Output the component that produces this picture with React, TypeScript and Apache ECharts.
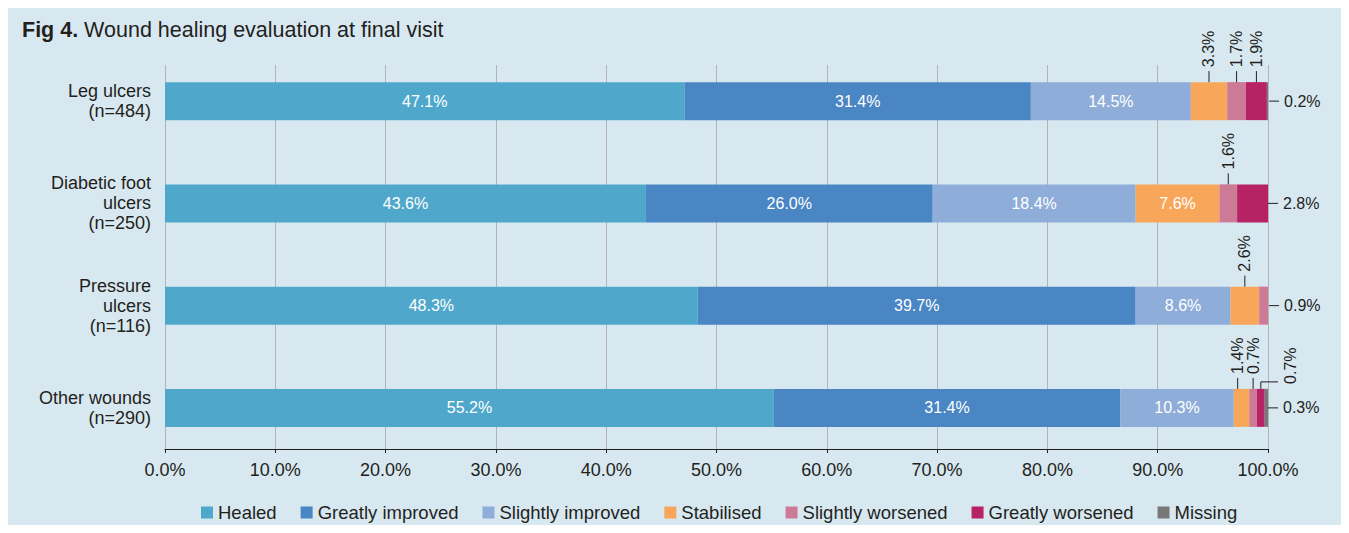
import React, { useEffect, useRef } from 'react';
import * as echarts from 'echarts';

const categories = [
  'Leg ulcers\n(n=484)',
  'Diabetic foot\nulcers\n(n=250)',
  'Pressure\nulcers\n(n=116)',
  'Other wounds\n(n=290)',
];
const seriesNames = [
  'Healed',
  'Greatly improved',
  'Slightly improved',
  'Stabilised',
  'Slightly worsened',
  'Greatly worsened',
  'Missing',
];
const healed = [47.1, 43.6, 48.3, 55.2];
const greatlyImproved = [31.4, 26.0, 39.7, 31.4];
const slightlyImproved = [14.5, 18.4, 8.6, 10.3];
const stabilised = [3.3, 7.6, 2.6, 1.4];
const slightlyWorsened = [1.7, 1.6, 0.9, 0.7];
const greatlyWorsened = [1.9, 2.8, 0, 0.7];
const missing = [0.2, 0, 0, 0.3];
const xTicks = [0, 10, 20, 30, 40, 50, 60, 70, 80, 90, 100];

const seriesValues = [healed, greatlyImproved, slightlyImproved, stabilised, slightlyWorsened, greatlyWorsened, missing];
const colors = ['#4fa8cb', '#4a85c4', '#8fadd9', '#f8a65a', '#cc7a96', '#b72264', '#787878'];

const FONT = '"Liberation Sans", Arial, Helvetica, sans-serif';
const TEXT = '#231f20';
const BAR_W = 38;
const INSIDE_MIN = 5;

// Build annotation items for small segments: [start, cat, end, kind, shift, value]
// kind 0 = label above (rotated), 1 = label at right end, 2 = elbow label above right
function buildAnnotations() {
  const out: number[][] = [];
  categories.forEach((_, ci) => {
    const vals = seriesValues.map((s) => s[ci]);
    let lastIdx = -1;
    vals.forEach((v, i) => { if (v > 0) lastIdx = i; });
    const starts: number[] = [];
    let acc = 0;
    vals.forEach((v) => { starts.push(acc); acc += v; });
    const tops: { i: number; center: number; shift: number; kind: number }[] = [];
    vals.forEach((v, i) => {
      if (v <= 0 || v >= INSIDE_MIN || i === lastIdx) return;
      const center = starts[i] + v / 2;
      const prev = tops.length ? tops[tops.length - 1] : null;
      let kind = 0;
      if (prev && prev.kind === 0 && center - prev.center < 0.9) kind = 2;
      tops.push({ i, center, shift: 0, kind });
    });
    // nudge overlapping upward labels
    for (let k = tops.length - 1; k > 0; k--) {
      const a = tops[k - 1];
      const b = tops[k];
      if (b.kind !== 0 || a.kind !== 0) continue;
      const gap = b.center + b.shift - (a.center + a.shift);
      if (gap < 1.4) a.shift -= 1.4 - gap;
    }
    tops.forEach((t) => {
      out.push([starts[t.i], ci, starts[t.i] + vals[t.i], t.kind, t.shift, vals[t.i]]);
    });
    if (lastIdx >= 0 && vals[lastIdx] < INSIDE_MIN) {
      out.push([starts[lastIdx], ci, starts[lastIdx] + vals[lastIdx], 1, 0, vals[lastIdx]]);
    }
  });
  return out;
}

export default function App() {
  const ref = useRef<HTMLDivElement>(null);
  useEffect(() => {
    if (!ref.current) return;
    const chart = echarts.init(ref.current, undefined, { renderer: 'svg' });
    const annotations = buildAnnotations();

    const barSeries = seriesNames.map((name, si) => ({
      name,
      type: 'bar',
      stack: 'total',
      xAxisIndex: 0,
      yAxisIndex: 0,
      barWidth: BAR_W,
      itemStyle: { color: colors[si] },
      data: seriesValues[si],
      label: {
        show: true,
        position: 'inside',
        color: '#ffffff',
        fontSize: 16,
        fontFamily: FONT,
        formatter: (p: any) => (p.value >= INSIDE_MIN ? p.value.toFixed(1) + '%' : ''),
      },
    }));

    const annotationSeries = {
      name: 'annotations',
      type: 'custom',
      xAxisIndex: 0,
      yAxisIndex: 0,
      clip: false,
      z: 5,
      data: annotations,
      renderItem: (_params: any, api: any) => {
        const start = api.value(0);
        const cat = api.value(1);
        const end = api.value(2);
        const kind = api.value(3);
        const shift = api.value(4);
        const v = api.value(5);
        const center = (start + end) / 2;
        const c = api.coord([center + shift, cat]);
        const cy = c[1];
        const barTop = cy - BAR_W / 2;
        const label = Number(v).toFixed(1) + '%';
        const textStyle = {
          text: label,
          fill: TEXT,
          fontSize: 16,
          fontFamily: FONT,
          align: 'left',
          verticalAlign: 'middle',
        };
        const lineStyle = { stroke: TEXT, lineWidth: 1 };
        if (kind === 1) {
          const xe = api.coord([end, cat])[0];
          return {
            type: 'group',
            children: [
              { type: 'line', shape: { x1: xe, y1: cy, x2: xe + 10, y2: cy }, style: lineStyle },
              { type: 'text', x: xe + 15, y: cy, style: textStyle },
            ],
          };
        }
        if (kind === 2) {
          const x100 = api.coord([100, cat])[0];
          const x = c[0];
          return {
            type: 'group',
            children: [
              {
                type: 'polyline',
                shape: { points: [[x, barTop], [x, barTop - 7], [x100 + 10, barTop - 7]] },
                style: { ...lineStyle, fill: 'none' },
              },
              { type: 'text', x: x100 + 22, y: barTop - 5, rotation: Math.PI / 2, style: textStyle },
            ],
          };
        }
        const x = c[0];
        return {
          type: 'group',
          children: [
            { type: 'line', shape: { x1: x, y1: barTop, x2: x, y2: barTop - 11 }, style: lineStyle },
            { type: 'text', x: x, y: barTop - 15, rotation: Math.PI / 2, style: textStyle },
          ],
        };
      },
    };

    chart.setOption({
      animation: false,
      backgroundColor: '#d8e8f1',
      textStyle: { fontFamily: FONT },
      title: {
        text: '{b|Fig 4.} {r|Wound healing evaluation at final visit}',
        left: 14,
        top: 11,
        padding: 0,
        textStyle: {
          fontWeight: 'normal',
          fontSize: 21.5,
          color: TEXT,
          rich: {
            b: { fontSize: 21.5, fontWeight: 'bold', color: TEXT, fontFamily: FONT },
            r: { fontSize: 21.5, fontWeight: 'normal', color: TEXT, fontFamily: FONT },
          },
        },
      },
      legend: {
        data: seriesNames,
        left: 188,
        top: 490,
        icon: 'rect',
        itemWidth: 12,
        itemHeight: 12,
        itemGap: 24,
        selectedMode: false,
        textStyle: { fontSize: 18.5, color: TEXT, fontFamily: FONT },
      },
      grid: [
        { left: 157, right: 73, top: 42, height: 409 },
        { left: 157, right: 73, top: 57, height: 384 },
      ],
      xAxis: [
        { gridIndex: 0, type: 'value', min: 0, max: 100, show: false },
        {
          gridIndex: 1,
          type: 'value',
          min: xTicks[0],
          max: xTicks[xTicks.length - 1],
          interval: xTicks[1] - xTicks[0],
          axisLine: { show: true, lineStyle: { color: TEXT, width: 1 } },
          axisTick: { show: true, length: 4, lineStyle: { color: TEXT } },
          axisLabel: {
            fontSize: 18,
            color: TEXT,
            margin: 12,
            fontFamily: FONT,
            formatter: (v: number) => v.toFixed(1) + '%',
          },
          splitLine: { show: true, lineStyle: { color: '#b3b3b3', width: 1 } },
        },
      ],
      yAxis: [
        {
          gridIndex: 0,
          type: 'category',
          data: categories,
          inverse: true,
          axisLine: { show: false },
          axisTick: { show: false },
          splitLine: { show: false },
          axisLabel: {
            fontSize: 18,
            lineHeight: 20,
            color: TEXT,
            margin: 14,
            align: 'right',
            fontFamily: FONT,
          },
        },
        { gridIndex: 1, type: 'value', min: 0, max: 1, show: false },
      ],
      series: [...barSeries, annotationSeries],
    });
    return () => chart.dispose();
  }, []);
  return <div ref={ref} style={{ width: 1333, height: 517 }} />;
}
